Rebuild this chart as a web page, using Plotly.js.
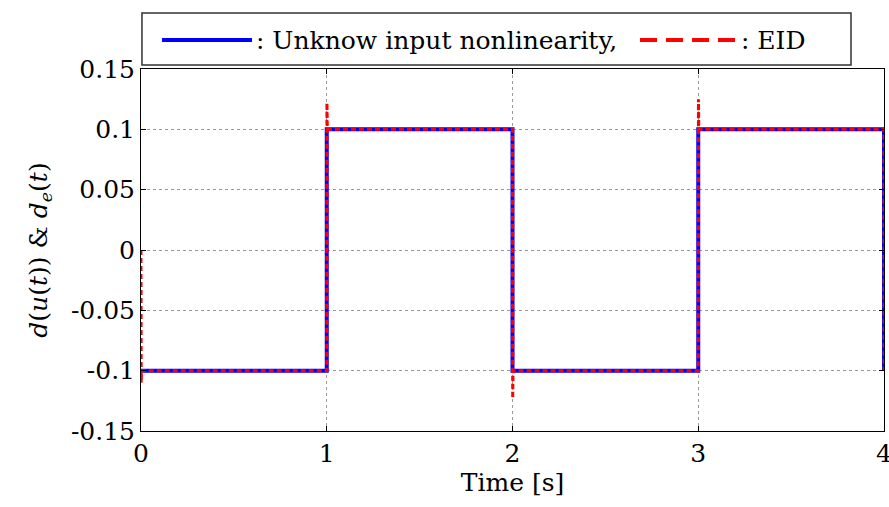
<!DOCTYPE html>
<html>
<head>
<meta charset="utf-8">
<script src="https://cdn.plot.ly/plotly-3.0.1.min.js"></script>
<style>html,body{margin:0;padding:0;background:#fff;}#chart{width:889px;height:507px;}</style>
</head>
<body>
<div id="chart"></div>
<script>
// Data
const timeInput = [0, 1, 1, 2, 2, 3, 3, 4, 4];
const inputNonlinearity = [-0.1, -0.1, 0.1, 0.1, -0.1, -0.1, 0.1, 0.1, -0.1];
const timeEID = [0, 0.001, 0.003, 1, 1.001, 1.003, 2, 2.001, 2.003, 3, 3.001, 3.003, 4, 4.001];
const eid = [0, -0.11, -0.1, -0.1, 0.122, 0.1, 0.1, -0.123, -0.1, -0.1, 0.125, 0.1, 0.1, -0.1];
const xTicks = [0, 1, 2, 3, 4];
const xTickText = ['0', '1', '2', '3', '4'];
const yTicks = [-0.15, -0.1, -0.05, 0, 0.05, 0.1, 0.15];
const yTickText = ['-0.15', '-0.1', '-0.05', '0', '0.05', '0.1', '0.15'];
const seriesNames = [': Unknow input nonlinearity,', ': EID'];

const FONT = 'DejaVu Serif';

const traces = [
  {
    x: timeInput, y: inputNonlinearity, type: 'scatter', mode: 'lines',
    name: seriesNames[0], line: {color: '#0000ff', width: 4}
  },
  {
    x: timeEID, y: eid, type: 'scatter', mode: 'lines',
    name: seriesNames[1], line: {color: '#ff0000', width: 3, dash: '5px,3px'}
  }
];

// manual legend (paper coordinates)
const legY = 1.080;
const shapes = [
  {type: 'rect', xref: 'paper', yref: 'paper', x0: 0.0013, x1: 0.9556, y0: 1.011, y1: 1.1547,
   line: {color: '#333', width: 1.5}, fillcolor: '#fff', layer: 'above'},
  {type: 'line', xref: 'paper', yref: 'paper', x0: 0.0283, x1: 0.1494, y0: legY, y1: legY,
   line: {color: '#0000ff', width: 4}},
  {type: 'line', xref: 'paper', yref: 'paper', x0: 0.6716, x1: 0.8022, y0: legY, y1: legY,
   line: {color: '#ff0000', width: 4, dash: '17px,9px'}}
];
const annotations = [
  {xref: 'paper', yref: 'paper', x: 0.1520, y: legY, xanchor: 'left', yanchor: 'middle',
   text: seriesNames[0], showarrow: false, font: {family: FONT, size: 25, color: '#000'}},
  {xref: 'paper', yref: 'paper', x: 0.8050, y: legY, xanchor: 'left', yanchor: 'middle',
   text: seriesNames[1], showarrow: false, font: {family: FONT, size: 25, color: '#000'}}
];

const axisCommon = {
  showline: true, linecolor: '#000', linewidth: 1, mirror: 'ticks',
  ticks: 'inside', ticklen: 5, tickcolor: '#000', tickwidth: 1,
  showgrid: true, gridcolor: '#9a9a9a', gridwidth: 1, griddash: 'dot',
  zeroline: false, ticklabeloverflow: 'allow',
  tickfont: {family: FONT, size: 25, color: '#000'}
};

const layout = {
  width: 889, height: 507,
  margin: {l: 141, r: 5, t: 69, b: 76},
  paper_bgcolor: '#fff', plot_bgcolor: '#fff',
  font: {family: FONT, color: '#000'},
  showlegend: false,
  xaxis: Object.assign({}, axisCommon, {
    range: [0, 4], tickmode: 'array', tickvals: xTicks, ticktext: xTickText,
    title: {text: 'Time [s]', font: {family: FONT, size: 25, color: '#000'}, standoff: 6}
  }),
  yaxis: Object.assign({}, axisCommon, {
    range: [-0.15, 0.15], tickmode: 'array', tickvals: yTicks, ticktext: yTickText,
    title: {text: '<i>d</i>(<i>u</i>(<i>t</i>)) & <i>d</i><sub><i>e</i></sub>(<i>t</i>)',
            font: {family: FONT, size: 25, color: '#000'}, standoff: 16}
  }),
  shapes: shapes,
  annotations: annotations
};

Plotly.newPlot('chart', traces, layout, {displayModeBar: false, staticPlot: true});
</script>
</body>
</html>
